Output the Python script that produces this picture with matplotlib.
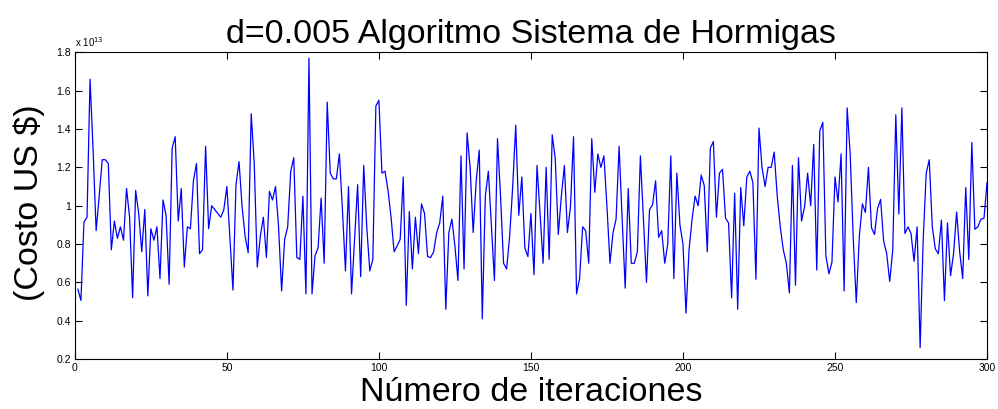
import numpy as np
import matplotlib
matplotlib.use("Agg")
import matplotlib.pyplot as plt
from matplotlib.ticker import FuncFormatter

plt.rcParams['font.family'] = ['Liberation Sans', 'DejaVu Sans']

# Cost values (units of 1e13 US$) for iterations 1..300
costo = [
    0.565, 0.506, 0.915, 0.94, 1.66, 1.29, 0.87, 1.05, 1.24, 1.24,
    1.22, 0.77, 0.92, 0.83, 0.89, 0.82, 1.09, 0.94, 0.52, 1.08,
    0.96, 0.76, 0.98, 0.53, 0.88, 0.82, 0.89, 0.62, 1.03, 0.95,
    0.59, 1.30, 1.36, 0.92, 1.09, 0.68, 0.89, 0.88, 1.13, 1.22,
    0.75, 0.77, 1.31, 0.88, 1.00, 0.98, 0.96, 0.94, 0.98, 1.10,
    0.83, 0.56, 1.11, 1.23, 0.995, 0.84, 0.755, 1.48, 1.22, 0.68,
    0.84, 0.94, 0.73, 1.075, 1.03, 1.10, 0.89, 0.555, 0.825, 0.89,
    1.18, 1.25, 0.73, 0.72, 1.05, 0.54, 1.77, 0.54, 0.74, 0.78,
    1.04, 0.70, 1.54, 1.17, 1.14, 1.14, 1.27, 0.98, 0.66, 1.10,
    0.54, 0.82, 1.11, 0.63, 1.21, 0.89, 0.66, 0.72, 1.52, 1.55,
    1.17, 1.18, 1.08, 0.94, 0.76, 0.79, 0.825, 1.15, 0.48, 0.97,
    0.67, 0.94, 0.75, 1.01, 0.96, 0.735, 0.73, 0.76, 0.86, 0.91,
    1.05, 0.46, 0.86, 0.93, 0.79, 0.61, 1.26, 0.67, 1.38, 1.20,
    0.86, 1.13, 1.29, 0.41, 1.05, 1.18, 0.89, 0.61, 1.35, 1.05,
    0.70, 0.67, 0.84, 1.10, 1.42, 0.95, 1.15, 0.78, 0.735, 0.96,
    0.64, 1.21, 0.96, 0.70, 1.20, 0.72, 1.37, 1.245, 0.85, 1.05,
    1.21, 0.86, 0.995, 1.36, 0.54, 0.62, 0.89, 0.87, 0.70, 1.35,
    1.07, 1.27, 1.20, 1.26, 0.995, 0.70, 0.86, 0.93, 1.31, 0.93,
    0.57, 1.09, 0.70, 0.70, 0.76, 1.26, 0.93, 0.60, 0.98, 1.005,
    1.13, 0.835, 0.87, 0.70, 0.80, 1.26, 0.62, 1.17, 0.90, 0.80,
    0.44, 0.77, 0.93, 1.05, 1.00, 1.16, 1.105, 0.76, 1.30, 1.335,
    0.94, 1.17, 1.19, 0.935, 0.91, 0.52, 1.065, 0.46, 1.095, 0.895,
    1.15, 1.18, 1.12, 0.617, 1.405, 1.20, 1.10, 1.20, 1.20, 1.28,
    1.05, 0.89, 0.77, 0.70, 0.545, 1.21, 0.585, 1.25, 0.92, 0.995,
    1.17, 1.00, 1.32, 0.665, 1.39, 1.435, 0.74, 0.645, 0.705, 1.15,
    1.02, 1.27, 0.555, 1.51, 1.27, 0.83, 0.495, 0.84, 1.01, 0.965,
    1.20, 0.885, 0.85, 0.985, 1.033, 0.815, 0.75, 0.605, 0.77, 1.475,
    0.957, 1.51, 0.855, 0.89, 0.855, 0.71, 0.89, 0.26, 0.82, 1.17,
    1.24, 0.89, 0.775, 0.75, 0.925, 0.505, 0.91, 0.635, 0.75, 0.967,
    0.76, 0.62, 1.095, 0.72, 1.33, 0.877, 0.89, 0.93, 0.935, 1.12,
]
iteraciones = np.arange(1, len(costo) + 1)

xticks = [0, 50, 100, 150, 200, 250, 300]
yticks = [0.2, 0.4, 0.6, 0.8, 1.0, 1.2, 1.4, 1.6, 1.8]

fig = plt.figure(figsize=(9.98, 4.09), dpi=100)
ax = fig.add_axes([0.075, 0.122, 0.914, 0.750])
ax.plot(iteraciones, costo, color=(0, 0, 1), linewidth=0.9)
ax.set_xlim(0, 300)
ax.set_ylim(0.2, 1.8)
ax.set_xticks(xticks)
ax.set_yticks(yticks)
ax.yaxis.set_major_formatter(FuncFormatter(lambda v, p: "%g" % round(v, 2)))
ax.tick_params(direction='in', top=True, right=True, labelsize=7.5,
               length=5, width=0.8, colors='black', pad=3)
for s in ax.spines.values():
    s.set_linewidth(0.8)

ax.set_title("d=0.005 Algoritmo Sistema de Hormigas", fontsize=24.5, pad=7)
ax.set_xlabel("Número de iteraciones", fontsize=24.5, labelpad=3)
ax.set_ylabel("(Costo US $)", fontsize=24.5)
ax.yaxis.set_label_coords(-0.033, 0.51)
ax.text(0.0, 1.012, r"x 10$^{13}$", transform=ax.transAxes, fontsize=7,
        ha='left', va='bottom')

fig.savefig("out.png", dpi=100)
